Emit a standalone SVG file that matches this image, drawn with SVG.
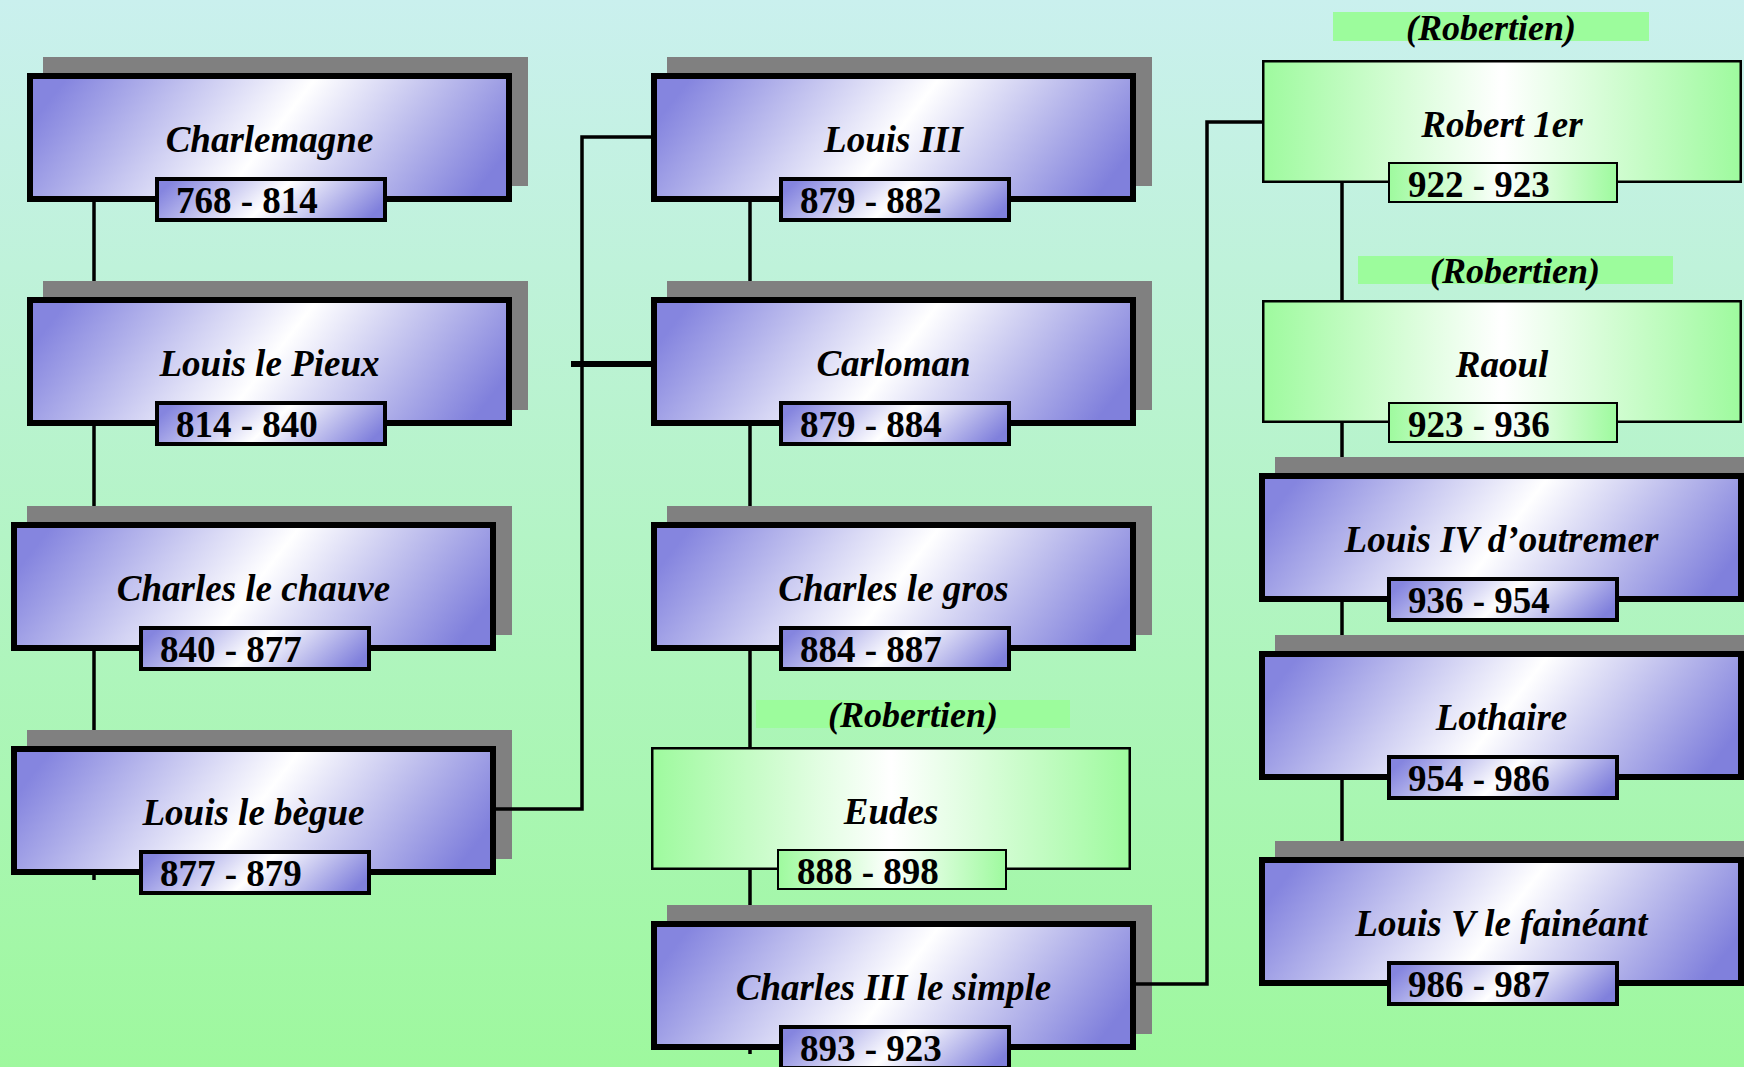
<svg xmlns="http://www.w3.org/2000/svg" width="1744" height="1067" viewBox="0 0 1744 1067">
<defs>
<linearGradient id="bg" x1="0" y1="0" x2="0" y2="1">
<stop offset="0" stop-color="#CAF0EE"/>
<stop offset="1" stop-color="#9EF89E"/>
</linearGradient>
<linearGradient id="blue" x1="0" y1="0.4" x2="1" y2="0.6">
<stop offset="0" stop-color="#8585DF"/>
<stop offset="0.5" stop-color="#FFFFFF"/>
<stop offset="1" stop-color="#8080DC"/>
</linearGradient>
<linearGradient id="green" x1="0" y1="0" x2="1" y2="0">
<stop offset="0" stop-color="#9EFA9E"/>
<stop offset="0.5" stop-color="#FFFFFF"/>
<stop offset="1" stop-color="#9EFA9E"/>
</linearGradient>
</defs>
<style>
.shadow{fill:#808080}
.bbox{fill:url(#blue);stroke:#000;stroke-width:6}
.bdate{fill:url(#blue);stroke:#000;stroke-width:4}
.gbox{fill:url(#green);stroke:#000;stroke-width:2.5}
.gdate{fill:url(#green);stroke:#000;stroke-width:2}
.lbl{fill:#9CFC9C}
.name{font-family:"Liberation Serif","Times New Roman",serif;font-weight:bold;font-style:italic;font-size:37px;text-anchor:middle;fill:#000}
.date{font-family:"Liberation Serif","Times New Roman",serif;font-weight:bold;font-size:37px;fill:#000}
.rob{font-family:"Liberation Serif","Times New Roman",serif;font-weight:bold;font-style:italic;font-size:36px;text-anchor:middle;fill:#000}
.ln{fill:none;stroke:#000;stroke-width:3.5}
</style>
<rect x="0" y="0" width="1744" height="1067" fill="url(#bg)"/>
<g id="charlemagne">
<rect class="shadow" x="43" y="57" width="485" height="129"/>
<rect class="bbox" x="30" y="76" width="479" height="123"/>
<rect class="bdate" x="157" y="179" width="228" height="41"/>
<text class="name" x="269.5" y="152">Charlemagne</text>
<text class="date" x="176" y="213">768 - 814</text>
</g>
<g id="louis-le-pieux">
<rect class="shadow" x="43" y="281" width="485" height="129"/>
<rect class="bbox" x="30" y="300" width="479" height="123"/>
<rect class="bdate" x="157" y="403" width="228" height="41"/>
<text class="name" x="269.5" y="376">Louis le Pieux</text>
<text class="date" x="176" y="437">814 - 840</text>
</g>
<g id="charles-le-chauve">
<rect class="shadow" x="27" y="506" width="485" height="129"/>
<rect class="bbox" x="14" y="525" width="479" height="123"/>
<rect class="bdate" x="141" y="628" width="228" height="41"/>
<text class="name" x="253.5" y="601">Charles le chauve</text>
<text class="date" x="160" y="662">840 - 877</text>
</g>
<g id="louis-le-begue">
<rect class="shadow" x="27" y="730" width="485" height="129"/>
<rect class="bbox" x="14" y="749" width="479" height="123"/>
<rect class="bdate" x="141" y="852" width="228" height="41"/>
<text class="name" x="253.5" y="825">Louis le bègue</text>
<text class="date" x="160" y="886">877 - 879</text>
</g>
<g id="louis-iii">
<rect class="shadow" x="667" y="57" width="485" height="129"/>
<rect class="bbox" x="654" y="76" width="479" height="123"/>
<rect class="bdate" x="781" y="179" width="228" height="41"/>
<text class="name" x="893.5" y="152">Louis III</text>
<text class="date" x="800" y="213">879 - 882</text>
</g>
<g id="carloman">
<rect class="shadow" x="667" y="281" width="485" height="129"/>
<rect class="bbox" x="654" y="300" width="479" height="123"/>
<rect class="bdate" x="781" y="403" width="228" height="41"/>
<text class="name" x="893.5" y="376">Carloman</text>
<text class="date" x="800" y="437">879 - 884</text>
</g>
<g id="charles-le-gros">
<rect class="shadow" x="667" y="506" width="485" height="129"/>
<rect class="bbox" x="654" y="525" width="479" height="123"/>
<rect class="bdate" x="781" y="628" width="228" height="41"/>
<text class="name" x="893.5" y="601">Charles le gros</text>
<text class="date" x="800" y="662">884 - 887</text>
</g>
<g id="eudes">
<rect class="lbl" x="756" y="700" width="314" height="28"/>
<text class="rob" x="913" y="727">(Robertien)</text>
<rect class="gbox" x="652.25" y="748.25" width="477.5" height="120.5"/>
<rect class="gdate" x="778" y="850" width="228" height="39"/>
<text class="name" x="891" y="824">Eudes</text>
<text class="date" x="797" y="884">888 - 898</text>
</g>
<g id="charles-iii">
<rect class="shadow" x="667" y="905" width="485" height="129"/>
<rect class="bbox" x="654" y="924" width="479" height="123"/>
<rect class="bdate" x="781" y="1027" width="228" height="41"/>
<text class="name" x="893.5" y="1000">Charles III le simple</text>
<text class="date" x="800" y="1061">893 - 923</text>
</g>
<g id="robert-1er">
<rect class="lbl" x="1333" y="12" width="316" height="29"/>
<text class="rob" x="1491" y="40">(Robertien)</text>
<rect class="gbox" x="1263.25" y="61.25" width="477.5" height="120.5"/>
<rect class="gdate" x="1389" y="163" width="228" height="39"/>
<text class="name" x="1502" y="137">Robert 1er</text>
<text class="date" x="1408" y="197">922 - 923</text>
</g>
<g id="raoul">
<rect class="lbl" x="1358" y="256" width="315" height="28"/>
<text class="rob" x="1515" y="283">(Robertien)</text>
<rect class="gbox" x="1263.25" y="301.25" width="477.5" height="120.5"/>
<rect class="gdate" x="1389" y="403" width="228" height="39"/>
<text class="name" x="1502" y="377">Raoul</text>
<text class="date" x="1408" y="437">923 - 936</text>
</g>
<g id="louis-iv">
<rect class="shadow" x="1275" y="457" width="485" height="129"/>
<rect class="bbox" x="1262" y="476" width="479" height="123"/>
<rect class="bdate" x="1389" y="579" width="228" height="41"/>
<text class="name" x="1501.5" y="552">Louis IV d’outremer</text>
<text class="date" x="1408" y="613">936 - 954</text>
</g>
<g id="lothaire">
<rect class="shadow" x="1275" y="635" width="485" height="129"/>
<rect class="bbox" x="1262" y="654" width="479" height="123"/>
<rect class="bdate" x="1389" y="757" width="228" height="41"/>
<text class="name" x="1501.5" y="730">Lothaire</text>
<text class="date" x="1408" y="791">954 - 986</text>
</g>
<g id="louis-v">
<rect class="shadow" x="1275" y="841" width="485" height="129"/>
<rect class="bbox" x="1262" y="860" width="479" height="123"/>
<rect class="bdate" x="1389" y="963" width="228" height="41"/>
<text class="name" x="1501.5" y="936">Louis V le fainéant</text>
<text class="date" x="1408" y="997">986 - 987</text>
</g>
<g id="connectors">
<line class="ln" x1="94" y1="202" x2="94" y2="281"/>
<line class="ln" x1="94" y1="426" x2="94" y2="506"/>
<line class="ln" x1="94" y1="651" x2="94" y2="730"/>
<line class="ln" x1="94" y1="875" x2="94" y2="880"/>
<line class="ln" x1="750" y1="202" x2="750" y2="281"/>
<line class="ln" x1="750" y1="426" x2="750" y2="506"/>
<line class="ln" x1="750" y1="651" x2="750" y2="747"/>
<line class="ln" x1="750" y1="870" x2="750" y2="905"/>
<line class="ln" x1="750" y1="1050" x2="750" y2="1054"/>
<line class="ln" x1="1342" y1="183" x2="1342" y2="300"/>
<line class="ln" x1="1342" y1="423" x2="1342" y2="457"/>
<line class="ln" x1="1342" y1="602" x2="1342" y2="635"/>
<line class="ln" x1="1342" y1="780" x2="1342" y2="841"/>
<path class="ln" d="M496,809 H582 V137 H651"/>
<path class="ln" d="M571,364 H651" style="stroke-width:6"/>
<path class="ln" d="M1136,984 H1207 V122 H1262"/>
</g>
</svg>
